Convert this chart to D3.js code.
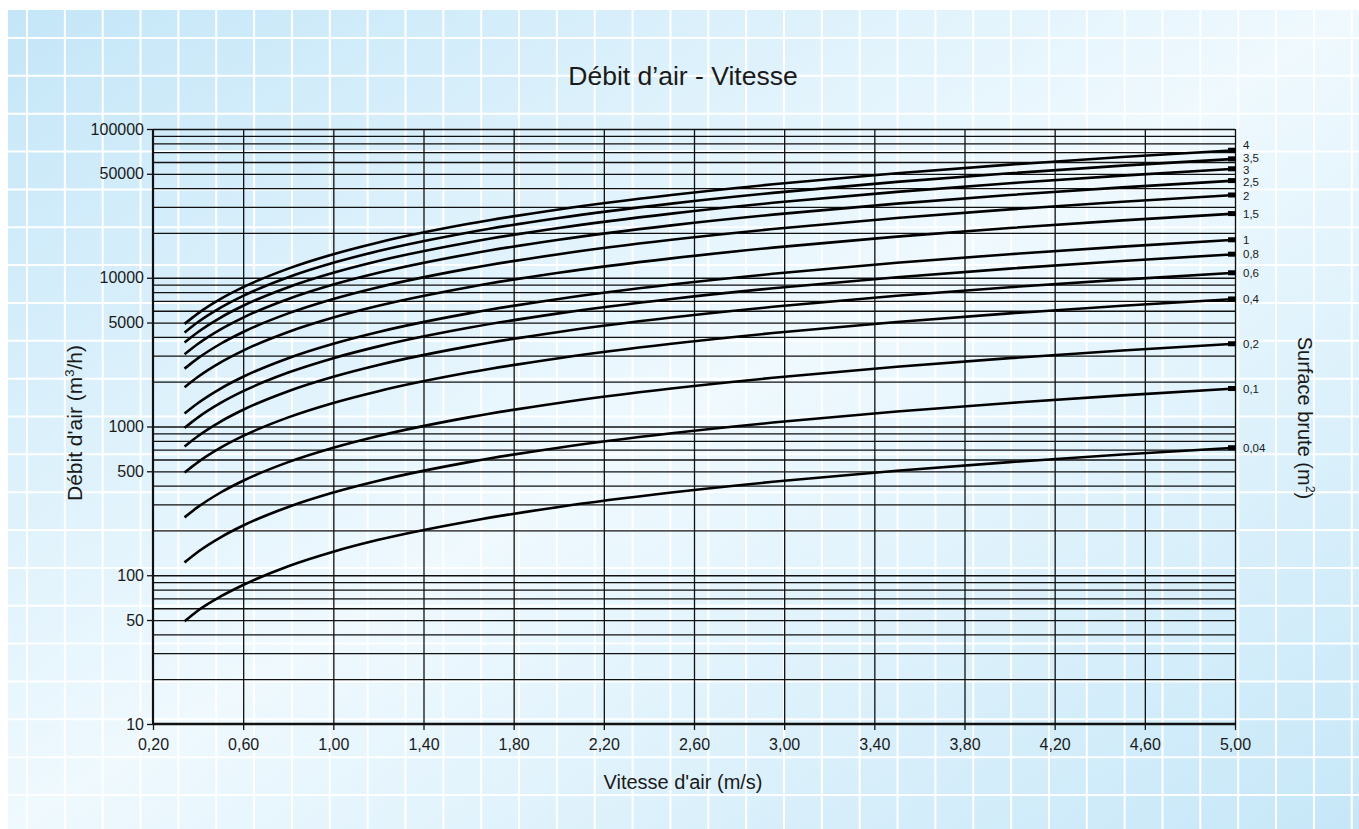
<!DOCTYPE html>
<html>
<head>
<meta charset="utf-8">
<script src="https://cdn.jsdelivr.net/npm/d3@7"></script>
<style>
  html, body { margin: 0; padding: 0; background: #ffffff; }
  svg { display: block; font-family: "Liberation Sans", Arial, Helvetica, sans-serif; }
</style>
</head>
<body>
<svg id="chart" width="1359" height="829"></svg>
<script>
// ---------- DATA ----------
const title = "Débit d’air - Vitesse";
const xTitle = "Vitesse d'air (m/s)";
const velocities = [0.34, 0.4, 0.5, 0.6, 0.8, 1.0, 1.2, 1.6, 2.0, 2.5, 3.0, 3.5, 4.0, 4.5, 5.0];
const surfaces = [4, 3.5, 3, 2.5, 2, 1.5, 1, 0.8, 0.6, 0.4, 0.2, 0.1, 0.04];
const surfaceLabels = ["4", "3,5", "3", "2,5", "2", "1,5", "1", "0,8", "0,6", "0,4", "0,2", "0,1", "0,04"];
const flow_4   = [4896, 5760, 7200, 8640, 11520, 14400, 17280, 23040, 28800, 36000, 43200, 50400, 57600, 64800, 72000];
const flow_3_5 = [4284, 5040, 6300, 7560, 10080, 12600, 15120, 20160, 25200, 31500, 37800, 44100, 50400, 56700, 63000];
const flow_3   = [3672, 4320, 5400, 6480, 8640, 10800, 12960, 17280, 21600, 27000, 32400, 37800, 43200, 48600, 54000];
const flow_2_5 = [3060, 3600, 4500, 5400, 7200, 9000, 10800, 14400, 18000, 22500, 27000, 31500, 36000, 40500, 45000];
const flow_2   = [2448, 2880, 3600, 4320, 5760, 7200, 8640, 11520, 14400, 18000, 21600, 25200, 28800, 32400, 36000];
const flow_1_5 = [1836, 2160, 2700, 3240, 4320, 5400, 6480, 8640, 10800, 13500, 16200, 18900, 21600, 24300, 27000];
const flow_1   = [1224, 1440, 1800, 2160, 2880, 3600, 4320, 5760, 7200, 9000, 10800, 12600, 14400, 16200, 18000];
const flow_0_8 = [979, 1152, 1440, 1728, 2304, 2880, 3456, 4608, 5760, 7200, 8640, 10080, 11520, 12960, 14400];
const flow_0_6 = [734, 864, 1080, 1296, 1728, 2160, 2592, 3456, 4320, 5400, 6480, 7560, 8640, 9720, 10800];
const flow_0_4 = [490, 576, 720, 864, 1152, 1440, 1728, 2304, 2880, 3600, 4320, 5040, 5760, 6480, 7200];
const flow_0_2 = [245, 288, 360, 432, 576, 720, 864, 1152, 1440, 1800, 2160, 2520, 2880, 3240, 3600];
const flow_0_1 = [122, 144, 180, 216, 288, 360, 432, 576, 720, 900, 1080, 1260, 1440, 1620, 1800];
const flow_0_04 = [49, 58, 72, 86, 115, 144, 173, 230, 288, 360, 432, 504, 576, 648, 720];
const flows = [flow_4, flow_3_5, flow_3, flow_2_5, flow_2, flow_1_5, flow_1, flow_0_8, flow_0_6, flow_0_4, flow_0_2, flow_0_1, flow_0_04];
const xTicks = [0.2, 0.6, 1.0, 1.4, 1.8, 2.2, 2.6, 3.0, 3.4, 3.8, 4.2, 4.6, 5.0];
const yTickLabels = [10, 50, 100, 500, 1000, 5000, 10000, 50000, 100000];

// ---------- LAYOUT ----------
const W = 1359, H = 829;
const plot = { left: 153, right: 1235, top: 129, bottom: 724 };
const labelNudge = [-5.4, -1.4, 0.9, 1.3, 0.6, 0.5, 0, 0, 0, 0, 0, 0, 0];
const svg = d3.select("#chart");

// background panel with diagonal gradient
const defs = svg.append("defs");
const grad = defs.append("linearGradient").attr("id", "bg")
  .attr("x1", 0).attr("y1", 0).attr("x2", 1).attr("y2", 1);
grad.append("stop").attr("offset", 0).attr("stop-color", "#c4e6f8");
grad.append("stop").attr("offset", 0.5).attr("stop-color", "#eff9fe");
grad.append("stop").attr("offset", 1).attr("stop-color", "#c6e7f8");
svg.append("rect").attr("x", 8).attr("y", 10).attr("width", W - 8).attr("height", H - 10)
  .attr("fill", "url(#bg)");

// decorative white grid
const bgStep = 37.85;
const bg = svg.append("g").attr("stroke", "#ffffff").attr("stroke-width", 2);
d3.range(27, W, bgStep).forEach(x => bg.append("line").attr("x1", x).attr("x2", x).attr("y1", 10).attr("y2", H));
d3.range(38, H, bgStep).forEach(y => bg.append("line").attr("x1", 8).attr("x2", W).attr("y1", y).attr("y2", y));

// scales
const x = d3.scaleLinear().domain([0.2, 5.0]).range([plot.left, plot.right]);
const y = d3.scaleLog().domain([10, 100000]).range([plot.bottom, plot.top]);

// horizontal grid lines at every log minor tick
const minorY = [];
[10, 100, 1000, 10000].forEach(p => { for (let d = 1; d <= 9; d++) minorY.push(d * p); });
minorY.push(100000);
svg.append("g")
  .attr("transform", `translate(${plot.left},0)`)
  .call(d3.axisLeft(y).tickValues(minorY.filter(v => v > 10)).tickSize(-(plot.right - plot.left)).tickFormat(""))
  .call(g => g.select(".domain").remove())
  .call(g => g.selectAll("line").attr("stroke", "#111").attr("stroke-width", 1.3));

// vertical grid lines
svg.append("g")
  .attr("transform", `translate(0,${plot.bottom})`)
  .call(d3.axisBottom(x).tickValues(xTicks.slice(1)).tickSize(-(plot.bottom - plot.top)).tickFormat(""))
  .call(g => g.select(".domain").remove())
  .call(g => g.selectAll("line").attr("stroke", "#111").attr("stroke-width", 1.3));

// y axis
svg.append("g")
  .attr("transform", `translate(${plot.left},0)`)
  .call(d3.axisLeft(y).tickValues(yTickLabels).tickFormat(d => String(d)).tickSize(6).tickPadding(3))
  .call(g => g.select(".domain").attr("stroke", "#111").attr("stroke-width", 2.2)
        .attr("d", `M0,${plot.top}V${plot.bottom}`))
  .call(g => g.selectAll(".tick line").attr("stroke", "#111").attr("stroke-width", 1.3))
  .call(g => g.selectAll(".tick text").attr("fill", "#1a1a1a").attr("font-size", 16)
        .attr("font-family", "Liberation Sans, Arial, sans-serif"));

// x axis
const fmtX = d => d3.format(".2f")(d).replace(".", ",");
svg.append("g")
  .attr("transform", `translate(0,${plot.bottom})`)
  .call(d3.axisBottom(x).tickValues(xTicks).tickFormat(fmtX).tickSize(6).tickPadding(9))
  .call(g => g.select(".domain").attr("stroke", "#111").attr("stroke-width", 2.6)
        .attr("d", `M${plot.left},0H${plot.right}`))
  .call(g => g.selectAll(".tick line").attr("stroke", "#111").attr("stroke-width", 1.3))
  .call(g => g.selectAll(".tick text").attr("fill", "#1a1a1a").attr("font-size", 16)
        .attr("font-family", "Liberation Sans, Arial, sans-serif"));

// curves
const line = d3.line().x(d => x(d[0])).y(d => y(d[1])).curve(d3.curveMonotoneX);
const curves = svg.append("g");
flows.forEach((vals, i) => {
  const pts = velocities.map((v, j) => [v, vals[j]]);
  curves.append("path").attr("d", line(pts)).attr("fill", "none")
    .attr("stroke", "#000").attr("stroke-width", 2.6).attr("stroke-linejoin", "round");
  // end marker
  curves.append("rect")
    .attr("x", x(5.0) - 7).attr("y", y(vals[vals.length - 1]) - 2.5)
    .attr("width", 8).attr("height", 5).attr("fill", "#000");
});

// series labels
svg.append("g").selectAll("text").data(surfaces).join("text")
  .attr("x", plot.right + 8)
  .attr("y", (s, i) => y(flows[i][flows[i].length - 1]) + labelNudge[i])
  .attr("dy", "0.36em")
  .attr("font-size", 11.5).attr("fill", "#1a1a1a")
  .text((s, i) => surfaceLabels[i]);

// title
svg.append("text").attr("x", 683).attr("y", 84.5).attr("text-anchor", "middle")
  .attr("font-size", 26.5).attr("fill", "#1a1a1a").text(title);

// x title
svg.append("text").attr("x", 683).attr("y", 789).attr("text-anchor", "middle")
  .attr("font-size", 20).attr("fill", "#1a1a1a").text(xTitle);

// y title
const yt = svg.append("text").attr("transform", "translate(82,423) rotate(-90)")
  .attr("text-anchor", "middle").attr("font-size", 21).attr("fill", "#1a1a1a");
yt.append("tspan").text("Débit d'air (m");
yt.append("tspan").attr("font-size", 13).attr("dy", "-0.6em").text("3");
yt.append("tspan").attr("dy", "0.37em").text("/h)");

// right title
const rt = svg.append("text").attr("transform", "translate(1298,418) rotate(90)")
  .attr("text-anchor", "middle").attr("font-size", 20).attr("fill", "#1a1a1a");
rt.append("tspan").text("Surface brute (m");
rt.append("tspan").attr("font-size", 12.5).attr("dy", "-0.6em").text("2");
rt.append("tspan").attr("dy", "0.37em").text(")");
</script>
</body>
</html>
